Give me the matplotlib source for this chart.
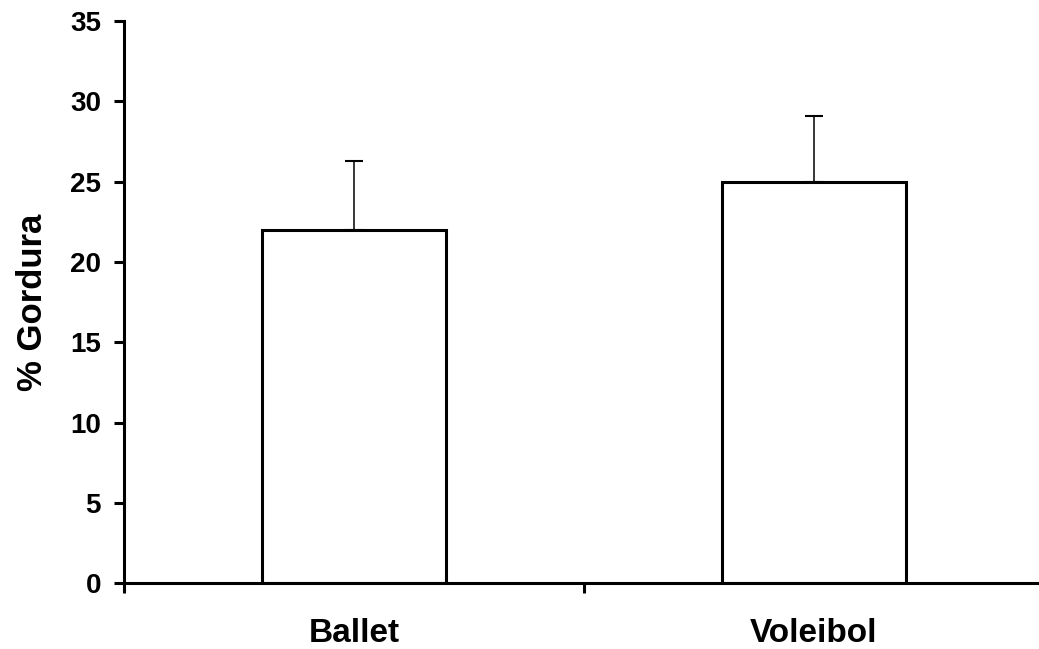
import matplotlib
matplotlib.use("Agg")
import matplotlib.pyplot as plt
from matplotlib.ticker import FixedLocator, NullFormatter

plt.rcParams['font.family'] = ['Liberation Sans', 'DejaVu Sans']
plt.rcParams['font.weight'] = 'bold'

groups = ["Ballet", "Voleibol"]
fat_mean = [22.0, 25.0]
fat_sd = [4.3, 4.1]
y_ticks = [0, 5, 10, 15, 20, 25, 30, 35]

fig = plt.figure(figsize=(10.39, 6.49), dpi=100)
ax = fig.add_axes([0.1193, 0.1012, 0.8855, 0.8664])

centers = [i + 0.5 for i in range(len(groups))]
ax.bar(centers, fat_mean, width=0.40, color="white", edgecolor="black",
       linewidth=2.2, zorder=2)
ax.errorbar(centers, fat_mean, yerr=[[0] * len(fat_sd), fat_sd], fmt="none",
            ecolor="black", elinewidth=1.1, capsize=6.5, capthick=1.5, zorder=1)

ax.set_xlim(0, len(groups))
ax.set_ylim(0, 35)

for side in ("top", "right"):
    ax.spines[side].set_visible(False)
for side in ("left", "bottom"):
    ax.spines[side].set_linewidth(2.2)

ax.set_yticks(y_ticks)
ax.set_yticklabels([str(t) for t in y_ticks], fontsize=20, fontweight="bold")
ax.tick_params(axis="y", direction="out", length=7.5, width=2.2, pad=9)

ax.xaxis.set_major_locator(FixedLocator(range(len(groups) + 1)))
ax.xaxis.set_major_formatter(NullFormatter())
ax.xaxis.set_minor_locator(FixedLocator(centers))
ax.set_xticklabels(groups, minor=True, fontsize=24, fontweight="bold")
ax.tick_params(axis="x", which="major", direction="out", length=7.5, width=2.2)
ax.tick_params(axis="x", which="minor", length=0, pad=25)

ax.set_ylabel("% Gordura", fontsize=25, fontweight="bold", labelpad=15)

fig.savefig("out.png", dpi=100)
